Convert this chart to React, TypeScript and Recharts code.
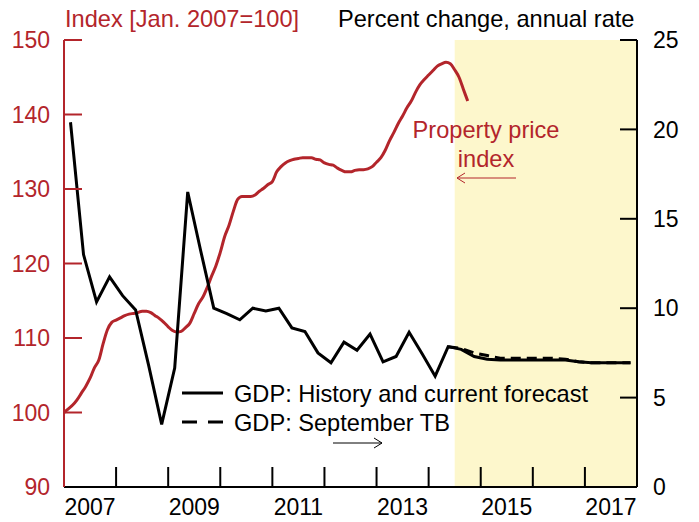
import { LineChart, Line, XAxis, YAxis, ReferenceArea } from 'recharts';

// GDP, percent change at annual rate, quarterly from 2007Q1 (history + current forecast)
const gdpValues = [
  20.4, 13.0, 10.35, 11.75,
  10.7, 9.9, 6.8, 3.5,
  6.65, 16.5, 13.2, 10.0,
  9.7, 9.35, 10.0, 9.85,
  10.0, 8.9, 8.7, 7.5,
  6.95, 8.1, 7.65, 8.55,
  7.0, 7.3, 8.65, 7.45,
  6.2, 7.85, 7.7, 7.3,
  7.15, 7.1, 7.1, 7.1,
  7.1, 7.1, 7.1, 7.0,
  6.95, 6.95, 6.95, 6.95,
];

// September TB forecast, quarterly from 2014Q2
const septStartQuarter = 29;
const septValues = [7.85, 7.75, 7.5, 7.35, 7.2, 7.2, 7.2, 7.2, 7.2, 7.15, 7.0, 6.95, 6.95, 6.95, 6.95];

// Property price index, monthly from Jan 2007 (Jan 2007 = 100)
const propertyValues = [
  100.0, 100.5, 101.0, 101.7, 102.6, 103.5, 104.6, 106.0, 107.0, 109.2, 111.1, 112.1,
  112.4, 112.7, 113.0, 113.2, 113.3, 113.4, 113.6, 113.6, 113.4, 113.0, 112.6, 112.1,
  111.5, 111.0, 110.8, 110.9, 111.4, 112.0, 113.3, 114.6, 115.5, 116.8, 118.3, 119.7,
  121.5, 123.6, 125.1, 127.0, 128.6, 129.0, 129.0, 129.0, 129.2, 129.7, 130.1, 130.6,
  131.0, 132.3, 133.0, 133.5, 133.8, 134.0, 134.1, 134.2, 134.2, 134.2, 134.0, 133.9,
  133.5, 133.3, 133.2, 132.8, 132.5, 132.3, 132.3, 132.5, 132.6, 132.6, 132.7, 133.0,
  133.6, 134.2, 135.2, 136.5, 137.6, 138.8, 139.8, 140.9, 141.8, 143.0, 144.0, 144.7,
  145.3, 145.9, 146.5, 146.8, 147.0, 146.8, 146.0, 145.0, 143.4, 141.8,
];

const yearTicks = [2007, 2008, 2009, 2010, 2011, 2012, 2013, 2014, 2015, 2016, 2017, 2018];
const leftTicks = [90, 100, 110, 120, 130, 140, 150];
const rightTicks = [0, 5, 10, 15, 20, 25];
const forecastStart = 2014.5;

const quarterTime = (i: number) => 2007 + (i + 0.5) / 4;
const gdpData = gdpValues.map((v, i) => ({ t: quarterTime(i), v }));
const septData = septValues.map((v, i) => ({ t: quarterTime(septStartQuarter + i), v }));
const propertyData = propertyValues.map((v, i) => ({ t: 2007 + i / 12, v }));

const W = 699;
const H = 522;
const PLOT_LEFT = 64;
const PLOT_RIGHT = 637;
const PLOT_TOP = 40;
const PLOT_BOTTOM = 487;
const YEAR_PX = (PLOT_RIGHT - PLOT_LEFT) / 11;
const RED = '#b3252b';
const SHADE = '#fdf7cc';
const FONT = '"Liberation Sans", Arial, sans-serif';
const TICK_FS = 23;
const TEXT_FS = 23.6;

const LeftTick = ({ y, payload }: any) => (
  <g>
    {payload.value > 90 && (
      <line x1={PLOT_LEFT} x2={PLOT_LEFT + 18} y1={y} y2={y} stroke={RED} strokeWidth={2} />
    )}
    <text x={PLOT_LEFT - 14} y={y} dy="0.36em" textAnchor="end" fill={RED} fontSize={TICK_FS} fontFamily={FONT}>
      {payload.value}
    </text>
  </g>
);

const RightTick = ({ y, payload }: any) => (
  <g>
    {payload.value > 0 && (
      <line x1={PLOT_RIGHT - 17} x2={PLOT_RIGHT} y1={y} y2={y} stroke="#000" strokeWidth={2} />
    )}
    <text x={PLOT_RIGHT + 16} y={y} dy="0.36em" textAnchor="start" fill="#000" fontSize={TICK_FS} fontFamily={FONT}>
      {payload.value}
    </text>
  </g>
);

const YearTick = ({ x, payload }: any) => {
  const v = payload.value;
  return (
    <g>
      {v > 2007 && v < 2018 && (
        <line x1={x} x2={x} y1={PLOT_BOTTOM} y2={PLOT_BOTTOM - 20} stroke="#000" strokeWidth={2} />
      )}
      {v % 2 === 1 && v < 2018 && (
        <text x={x + YEAR_PX / 2} y={515} textAnchor="middle" fill="#000" fontSize={TICK_FS} fontFamily={FONT}>
          {v}
        </text>
      )}
    </g>
  );
};

export default function App() {
  return (
    <div style={{ position: 'absolute', left: 0, top: 0, width: W, height: H, background: '#fff', fontFamily: FONT }}>
      <LineChart width={W} height={H} margin={{ top: PLOT_TOP, right: 0, bottom: 0, left: 0 }}>
        <XAxis
          dataKey="t"
          type="number"
          domain={[2007, 2018]}
          ticks={yearTicks}
          interval={0}
          tick={<YearTick />}
          tickLine={false}
          axisLine={{ stroke: '#000', strokeWidth: 2 }}
          height={H - PLOT_BOTTOM}
          allowDataOverflow
        />
        <YAxis
          yAxisId="left"
          orientation="left"
          domain={[90, 150]}
          ticks={leftTicks}
          interval={0}
          tick={<LeftTick />}
          tickLine={false}
          axisLine={{ stroke: RED, strokeWidth: 2 }}
          width={PLOT_LEFT}
        />
        <YAxis
          yAxisId="right"
          orientation="right"
          domain={[0, 25]}
          ticks={rightTicks}
          interval={0}
          tick={<RightTick />}
          tickLine={false}
          axisLine={{ stroke: '#000', strokeWidth: 2 }}
          width={W - PLOT_RIGHT}
        />
        <ReferenceArea
          yAxisId="right"
          x1={forecastStart}
          x2={2018}
          y1={0}
          y2={25}
          fill={SHADE}
          fillOpacity={1}
          stroke="none"
        />
        <Line
          data={propertyData}
          dataKey="v"
          yAxisId="left"
          type="monotone"
          stroke={RED}
          strokeWidth={3}
          dot={false}
          isAnimationActive={false}
        />
        <Line
          data={septData}
          dataKey="v"
          yAxisId="right"
          type="linear"
          stroke="#000"
          strokeWidth={3}
          strokeDasharray="10 6"
          dot={false}
          isAnimationActive={false}
        />
        <Line
          data={gdpData}
          dataKey="v"
          yAxisId="right"
          type="linear"
          stroke="#000"
          strokeWidth={3}
          dot={false}
          isAnimationActive={false}
        />
      </LineChart>
      <svg width={W} height={H} style={{ position: 'absolute', left: 0, top: 0, pointerEvents: 'none' }}>
        <g fontFamily={FONT} fontSize={TEXT_FS}>
          <text x={65} y={27} fill={RED}>Index [Jan. 2007=100]</text>
          <text x={338} y={27} fill="#000">Percent change, annual rate</text>

          <text x={486} y={138} fill={RED} textAnchor="middle">Property price</text>
          <text x={486} y={167} fill={RED} textAnchor="middle">index</text>
          <line x1={516} x2={457} y1={178} y2={178} stroke={RED} strokeWidth={1} />
          <polyline points="465,173 457,178 465,183" fill="none" stroke={RED} strokeWidth={1} />

          <line x1={182} x2={223} y1={393} y2={393} stroke="#000" strokeWidth={3} />
          <text x={234} y={402} fill="#000">GDP: History and current forecast</text>
          <line x1={182} x2={223} y1={422} y2={422} stroke="#000" strokeWidth={3} strokeDasharray="15 11" />
          <text x={234} y={431} fill="#000">GDP: September TB</text>
          <line x1={333} x2={382} y1={443} y2={443} stroke="#000" strokeWidth={1} />
          <polyline points="374,438 382,443 374,448" fill="none" stroke="#000" strokeWidth={1} />
        </g>
      </svg>
    </div>
  );
}
